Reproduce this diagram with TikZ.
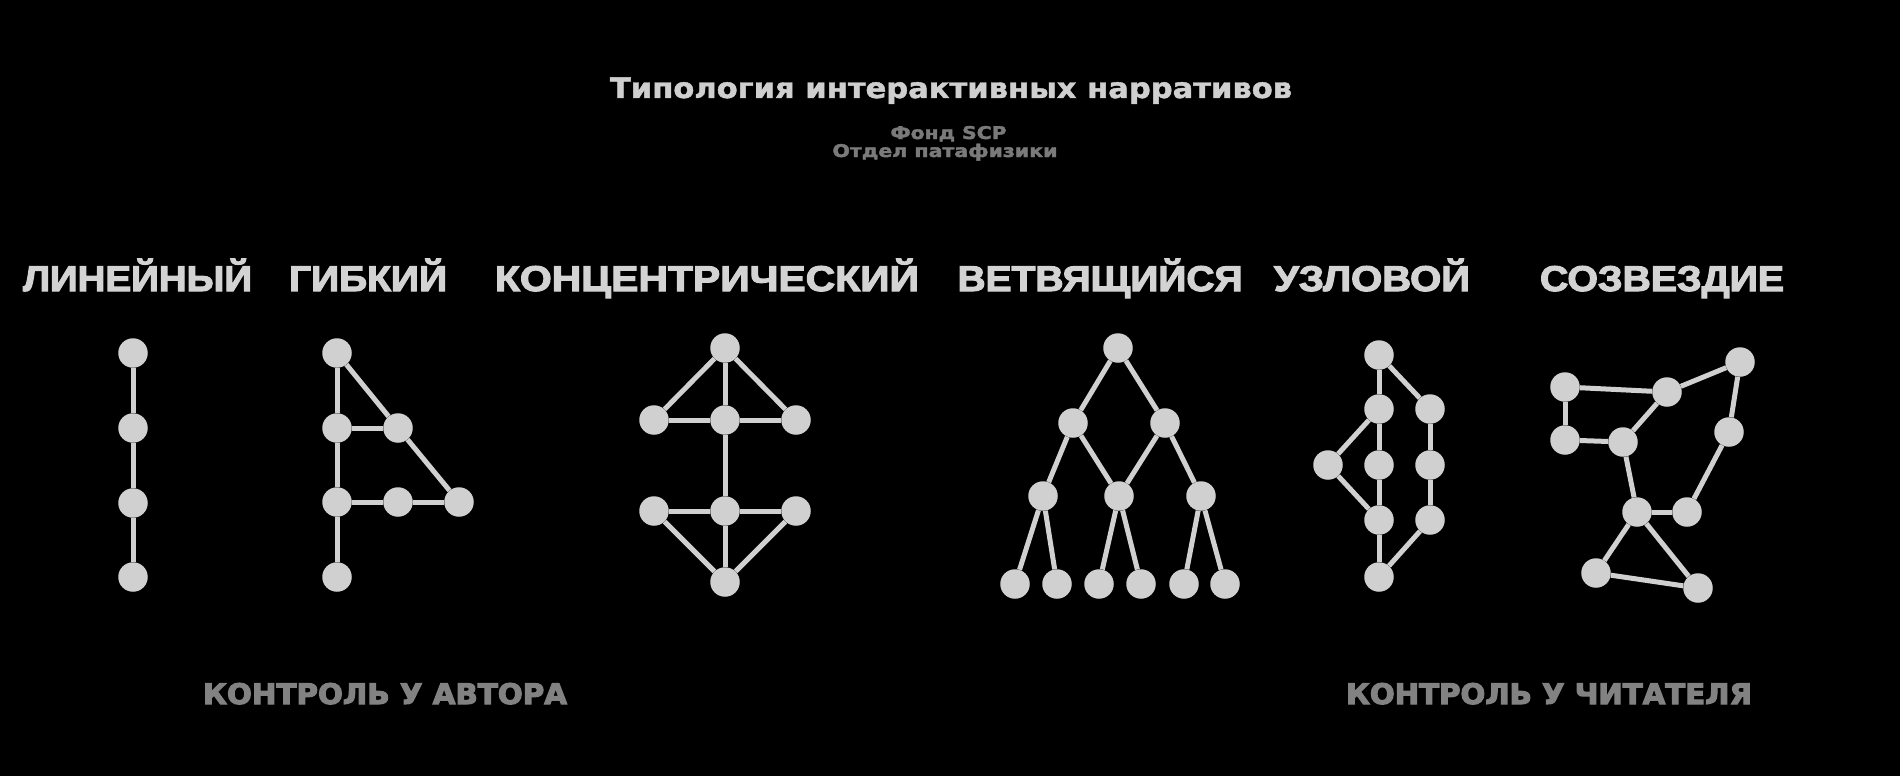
\documentclass[tikz,border=0pt]{standalone}
\usepackage{fontspec}
\usepackage{graphicx}
\setmainfont{DejaVu Sans}
\newfontfamily\headfont{Liberation Sans Bold}[FakeBold=3]
\newfontfamily\ttlfont{DejaVu Sans Bold}[FakeBold=1.5]
\newfontfamily\subfont{DejaVu Sans Bold}[FakeBold=2]
\newfontfamily\botfont{DejaVu Sans Bold}[FakeBold=4]
\definecolor{nodegray}{HTML}{D0D0D0}
\definecolor{headgray}{HTML}{D3D3D3}
\definecolor{titlegray}{HTML}{CFCFCF}
\definecolor{subgray}{HTML}{7A7A7A}
\definecolor{botgray}{HTML}{828282}
\newcommand{\fitw}[2]{\resizebox{#1pt}{\height}{#2}}
\begin{document}
\begin{tikzpicture}[x=1pt,y=-1pt,
  nd/.style={circle,fill=nodegray,inner sep=0pt,minimum size=29.5pt},
  ed/.style={draw=nodegray,line width=5pt},
  head/.style={anchor=base,text=headgray,inner sep=0pt,font=\headfont\fontsize{35.8}{40}\selectfont},
  ttl/.style={anchor=base,text=titlegray,inner sep=0pt,font=\ttlfont\fontsize{28.3}{32}\selectfont},
  sub/.style={anchor=base,text=subgray,inner sep=0pt,font=\subfont\fontsize{17.5}{20}\selectfont},
  bot/.style={anchor=base,text=botgray,inner sep=0pt,font=\botfont\fontsize{28.3}{32}\selectfont}]
\fill[black] (0,0) rectangle (1900,776);
\useasboundingbox (0,0) rectangle (1900,776);

% titles
\node[ttl] (title) at (951,98) {\fitw{682}{Типология интерактивных нарративов}};
\node[sub] (sub1) at (948.5,139) {\fitw{116}{Фонд SCP}};
\node[sub] (sub2) at (945,157) {\fitw{225}{Отдел патафизики}};

% headings
\node[head] (h1) at (137.5,291) {\fitw{229}{ЛИНЕЙНЫЙ}};
\node[head] (h2) at (368,291) {\fitw{158}{ГИБКИЙ}};
\node[head] (h3) at (707,291) {\fitw{424}{КОНЦЕНТРИЧЕСКИЙ}};
\node[head] (h4) at (1100,291) {\fitw{285}{ВЕТВЯЩИЙСЯ}};
\node[head] (h5) at (1372,291) {\fitw{196}{УЗЛОВОЙ}};
\node[head] (h6) at (1662,291) {\fitw{244}{СОЗВЕЗДИЕ}};

% bottom labels
\node[bot] (b1) at (385,704) {\fitw{364}{КОНТРОЛЬ У АВТОРА}};
\node[bot] (b2) at (1549,704) {\fitw{406}{КОНТРОЛЬ У ЧИТАТЕЛЯ}};

% linear
\node[nd] (l1) at (133,353) {};
\node[nd] (l2) at (133,428) {};
\node[nd] (l3) at (133,503) {};
\node[nd] (l4) at (133,577) {};
\foreach \a/\b in {l1/l2,l2/l3,l3/l4} \draw[ed] (\a) -- (\b);

% flexible
\node[nd] (f1) at (337,353) {};
\node[nd] (f2) at (337,428) {};
\node[nd] (f3) at (337,502) {};
\node[nd] (f4) at (337,577) {};
\node[nd] (f5) at (398,428) {};
\node[nd] (f6) at (398,502) {};
\node[nd] (f7) at (459,502) {};
\foreach \a/\b in {f1/f2,f2/f3,f3/f4,f1/f5,f2/f5,f5/f7,f3/f6,f6/f7} \draw[ed] (\a) -- (\b);

% concentric
\node[nd] (c1) at (725,348) {};
\node[nd] (c2) at (654,420) {};
\node[nd] (c3) at (725,420) {};
\node[nd] (c4) at (796,420) {};
\node[nd] (c5) at (654,511) {};
\node[nd] (c6) at (725,511) {};
\node[nd] (c7) at (796,511) {};
\node[nd] (c8) at (725,582) {};
\foreach \a/\b in {c1/c2,c1/c3,c1/c4,c2/c3,c3/c4,c3/c6,c5/c6,c6/c7,c5/c8,c6/c8,c7/c8} \draw[ed] (\a) -- (\b);

% branching
\node[nd] (r0) at (1118,348) {};
\node[nd] (r1) at (1073,423) {};
\node[nd] (r2) at (1165,423) {};
\node[nd] (r3) at (1043,496) {};
\node[nd] (r4) at (1119,496) {};
\node[nd] (r5) at (1201,496) {};
\node[nd] (s1) at (1015,584) {};
\node[nd] (s2) at (1057,584) {};
\node[nd] (s3) at (1099,584) {};
\node[nd] (s4) at (1141,584) {};
\node[nd] (s5) at (1184,584) {};
\node[nd] (s6) at (1225,584) {};
\foreach \a/\b in {r0/r1,r0/r2,r1/r3,r1/r4,r2/r4,r2/r5,r3/s1,r3/s2,r4/s3,r4/s4,r5/s5,r5/s6} \draw[ed] (\a) -- (\b);

% nodal
\node[nd] (n1) at (1379,355) {};
\node[nd] (n2) at (1379,409) {};
\node[nd] (n3) at (1430,409) {};
\node[nd] (n4) at (1328,465) {};
\node[nd] (n5) at (1379,465) {};
\node[nd] (n6) at (1430,465) {};
\node[nd] (n7) at (1379,520) {};
\node[nd] (n8) at (1430,520) {};
\node[nd] (n9) at (1379,577) {};
\foreach \a/\b in {n1/n2,n1/n3,n2/n4,n2/n5,n3/n6,n4/n7,n5/n7,n6/n8,n7/n9,n8/n9} \draw[ed] (\a) -- (\b);

% constellation
\node[nd] (k1) at (1565,387) {};
\node[nd] (k2) at (1667,392) {};
\node[nd] (k3) at (1740,362) {};
\node[nd] (k4) at (1565,440) {};
\node[nd] (k5) at (1623,442) {};
\node[nd] (k6) at (1729,432) {};
\node[nd] (k7) at (1637,512) {};
\node[nd] (k8) at (1687,512) {};
\node[nd] (k9) at (1596,573) {};
\node[nd] (k10) at (1698,588) {};
\foreach \a/\b in {k1/k2,k2/k3,k1/k4,k4/k5,k5/k2,k3/k6,k6/k8,k5/k7,k7/k8,k7/k9,k7/k10,k9/k10} \draw[ed] (\a) -- (\b);
\end{tikzpicture}
\end{document}
